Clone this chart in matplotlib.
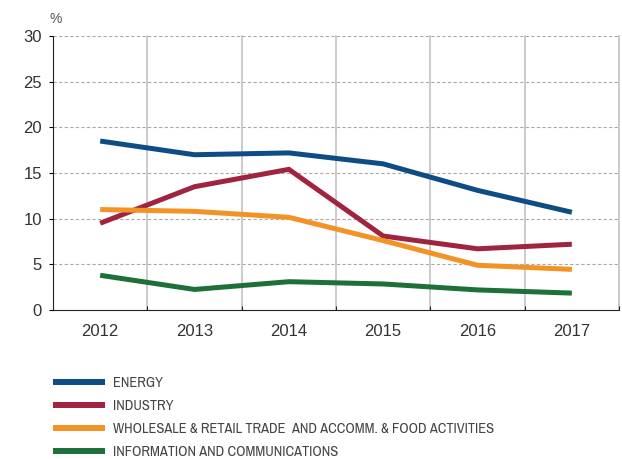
import matplotlib
matplotlib.use("Agg")
import matplotlib.pyplot as plt
from matplotlib import font_manager
import numpy as np

years = ["2012", "2013", "2014", "2015", "2016", "2017"]
energy = [18.5, 17.0, 17.2, 16.0, 13.1, 10.7]
industry = [9.5, 13.5, 15.4, 8.1, 6.7, 7.2]
wholesale = [11.0, 10.8, 10.15, 7.6, 4.9, 4.45]
ict = [3.8, 2.25, 3.1, 2.85, 2.2, 1.85]

labels = ["ENERGY", "INDUSTRY",
          "WHOLESALE & RETAIL TRADE  AND ACCOMM. & FOOD ACTIVITIES",
          "INFORMATION AND COMMUNICATIONS"]
colors = ["#0E4C85", "#A0243F", "#F39325", "#1D7038"]

names = {f.name for f in font_manager.fontManager.ttflist}
base_font = "Liberation Sans" if "Liberation Sans" in names else "DejaVu Sans"
plt.rcParams["font.family"] = [base_font, "DejaVu Sans"]

# look for a condensed face for the legend
narrow = None
for f in font_manager.fontManager.ttflist:
    if ("Narrow" in f.name or "Condensed" in f.name) and f.style == "normal":
        narrow = f.fname
        break
if narrow is None:
    for f in font_manager.fontManager.ttflist:
        if str(f.stretch) in ("condensed", "semi-condensed", "500", "300") and "Sans" in f.name and f.style == "normal" and f.weight in (400, "normal"):
            narrow = f.fname
            break

fig = plt.figure(figsize=(6.22, 4.59), dpi=100)
ax = fig.add_axes([53/622, 1-310/459, 566/622, 274/459])

x = np.arange(len(years)) + 0.5
series = [energy, industry, wholesale, ict]
handles = []
for s, c, l in zip(series, colors, labels):
    h, = ax.plot(x, s, color=c, lw=3.6, solid_capstyle="butt", solid_joinstyle="miter", label=l, zorder=3)
    handles.append(h)

ax.set_xlim(0, 6)
ax.set_ylim(0, 30)
ax.set_yticks(np.arange(0, 31, 5))
ax.set_xticks(np.arange(1, 7))
ax.set_xticklabels([])
ax.set_xticks(x, minor=True)
ax.set_xticklabels(years, minor=True)
ax.tick_params(axis="x", which="minor", length=0, pad=10, labelsize=12, labelcolor="#333333")
ax.tick_params(axis="x", which="major", direction="in", length=3, color="#222222")
ax.tick_params(axis="y", direction="out", length=3, pad=5, labelsize=12, labelcolor="#333333")

for v in np.arange(5, 31, 5):
    ax.axhline(v, color="#aaaaaa", lw=0.8, ls=(0, (3, 2)), zorder=1)
for v in np.arange(1, 7):
    ax.axvline(v, color="#bdbdbd", lw=1.1, zorder=1, clip_on=False)

ax.spines["top"].set_visible(False)
ax.spines["right"].set_visible(False)
ax.spines["left"].set_color("#222222")
ax.spines["bottom"].set_color("#222222")

fig.text(50/622, 1-19/459, "%", fontsize=10, color="#555555", ha="left", va="center")

if narrow is not None:
    prop = font_manager.FontProperties(fname=narrow, size=10.4)
    hl, htp, ls = 3.6, 0.55, 0.62
else:
    prop = font_manager.FontProperties(family=base_font, size=9)
    hl, htp, ls = 4.2, 0.6, 0.8
leg = fig.legend(handles=handles, labels=labels, loc="upper left",
                 bbox_to_anchor=(53/622, 1-376/459), frameon=False,
                 handlelength=hl, handletextpad=htp, labelspacing=ls,
                 prop=prop, borderaxespad=0, borderpad=0)
for t in leg.get_texts():
    t.set_color("#444444")
for lh in leg.get_lines():
    lh.set_linewidth(4.3)

fig.savefig("out.png", dpi=100)
